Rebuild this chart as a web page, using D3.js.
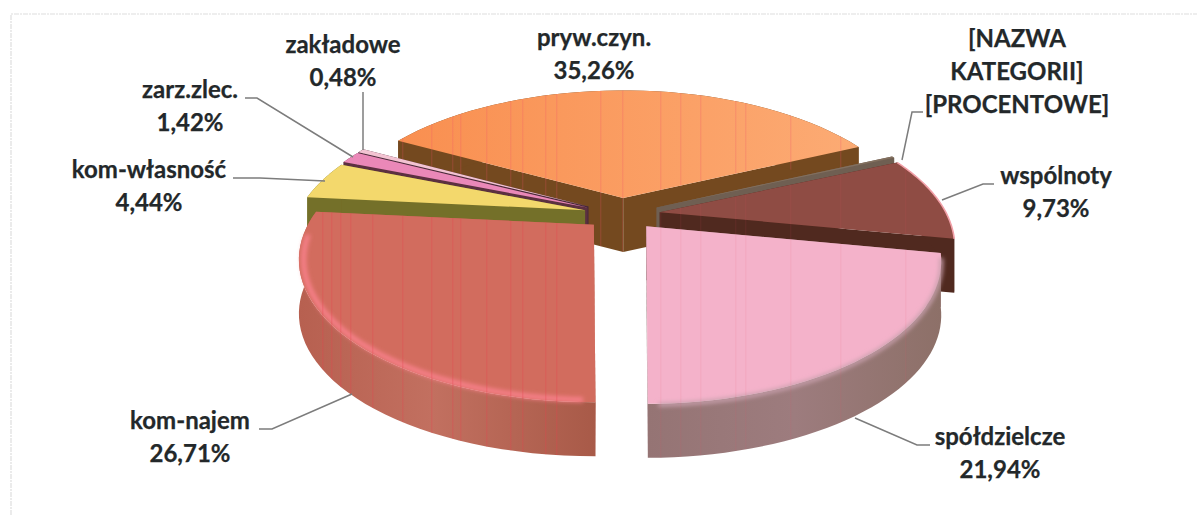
<!DOCTYPE html>
<html><head><meta charset="utf-8">
<style>html,body{margin:0;padding:0;background:#fff;overflow:hidden}svg{display:block}text{font-family:Lato,"Noto Sans",sans-serif;font-weight:700;fill:#23282a;stroke:#23282a;stroke-width:.25px;text-anchor:middle}</style>
<script src="https://cdn.jsdelivr.net/npm/d3@7/dist/d3.min.js"></script></head><body>
<svg id="c" width="1197" height="515"></svg>
<script>
const categories = ["pryw.czyn.","[NAZWA KATEGORII]","wspólnoty","spółdzielcze","kom-najem","kom-własność","zarz.zlec.","zakładowe"];
const shares = [35.26,0.22,9.73,21.94,26.71,4.44,1.42,0.48];
const labelLines = [["pryw.czyn.","35,26%"],["[NAZWA","KATEGORII]","[PROCENTOWE]"],["wspólnoty","9,73%"],["spółdzielcze","21,94%"],["kom-najem","26,71%"],["kom-własność","4,44%"],["zarz.zlec.","1,42%"],["zakładowe","0,48%"]];
const paintOrder = [0,1,7,6,2,5,4,3];

// layout and style, separate from the data
const topColor  = ["#fa9c60","#83705f","#8f4c44","#f4b2ca","#d26c5e","#f3d86c","#ea88b8","#f3c3d2"];
const wallColor = ["#74491f","#6f5f52","#50291f","#9c7b7d","#b9624f","#747029","#5c3040","#4a2a3a"];
const labelAt = [[594,46],[1017,47],[1056,184],[1000,445],[190,429],[149,178],[190,98],[343,53]];
const leaders = [null,
 [[923,112],[912,112],[902,160]],
 [[994,184],[983,184],[942,200]],
 [[930,445],[917,445],[855,418]],
 [[259,429],[272,429],[352,394]],
 [[233,178],[260,178],[325,181]],
 [[245,98],[257,98],[353,157]],
 [[363,92],[363,150]]];
const streaks = [322,331,340,350,372,402,431,452,486,510,522,545,556,622,680,700,745,660,735,790,840,905,460,600];

const R=286, Ry=134, K=0.245, H=54, cx=622, cy=214, ex=38, ey=16;
const svg=d3.select("#c");
const defs=svg.append("defs");
const blur=(id,s)=>defs.append("filter").attr("id",id).attr("x","-5%").attr("y","-5%").attr("width","110%").attr("height","110%").append("feGaussianBlur").attr("stdDeviation",s);
blur("b1",0.7); blur("b2",2.2);
const grad=(id,stops)=>{const g=defs.append("linearGradient").attr("id",id);stops.forEach(([o,c])=>g.append("stop").attr("offset",o).attr("stop-color",c));return `url(#${id})`;};
const wallFill={3:grad("wp",[[0,"#957474"],[.5,"#9d7c7e"],[1,"#8d7068"]]),4:grad("wr",[[0,"#b76050"],[.45,"#c27060"],[1,"#a85a48"]])};
const topFill={0:grad("to",[[0,"#f98f50"],[1,"#fcab74"]])};

// scanner frame
const frame=d3.line();
svg.append("path").attr("d",frame([[11,515],[11,14],[1197,14]])).attr("fill","none").attr("stroke","#dedede").attr("stroke-width",1.2).attr("stroke-dasharray","5 1 2 1");

const rad=Math.PI/180;
const pie=d3.pie().sort(null).startAngle(-61.5*rad).endAngle(298.5*rad);
const arcs=pie(shares);
const line=d3.line();
function apex(a){const m=(a.startAngle+a.endAngle)/2;return [cx+ex*Math.sin(m),cy-ey*Math.cos(m)];}
function proj(o,t,r,z){const X=r*Math.sin(t),Y=-r*Math.cos(t),s=1/(1-K*Y);return [o[0]+X*R*s,o[1]+Y*Ry*s+z];}
function rim(a,o,z,r=1,f0=0,f1=1){return d3.range(0,41).map(i=>proj(o,a.startAngle+(a.endAngle-a.startAngle)*(f0+(f1-f0)*i/40),r,z));}

paintOrder.forEach(i=>{
  const a=arcs[i],o=apex(a),g=svg.append("g");
  const top=rim(a,o,0),bot=rim(a,o,H);
  const topPath=line([o,...top])+"Z";
  const wallPath=line([...top,...bot.slice().reverse()])+"Z";
  const cut1=line([o,top[0],bot[0],[o[0],o[1]+H]])+"Z";
  const cut2=line([o,top[40],bot[40],[o[0],o[1]+H]])+"Z";
  g.append("path").attr("d",cut1).attr("fill",wallColor[i]);
  g.append("path").attr("d",cut2).attr("fill",wallColor[i]);
  g.append("path").attr("d",wallPath).attr("fill",wallFill[i]||wallColor[i]);
  g.append("path").attr("d",topPath).attr("fill",topFill[i]||topColor[i]);
  if(i===4) g.append("path").attr("d",line(rim(a,o,1,0.985,0.02,0.9))).attr("fill","none").attr("stroke","#f8808a").attr("stroke-width",5).attr("filter","url(#b2)");
  if(i===3) g.append("path").attr("d",line(rim(a,o,1,1,0.02,0.98))).attr("fill","none").attr("stroke","#c9a0ad").attr("stroke-width",4).attr("filter","url(#b2)");
  if(i===2) g.append("path").attr("d",line(top)).attr("fill","none").attr("stroke","#f2a0a8").attr("stroke-width",1.6).attr("filter","url(#b1)");
  if([0,3,4,2].includes(i)){
    const clip=defs.append("clipPath").attr("id","cl"+i);
    clip.append("path").attr("d",topPath);clip.append("path").attr("d",wallPath);clip.append("path").attr("d",cut1);
    g.append("g").attr("clip-path",`url(#cl${i})`).selectAll("rect").data(streaks).join("rect")
      .attr("x",d=>d).attr("y",60).attr("width",1.4).attr("height",420)
      .attr("fill",i===4?"#e8404c":"#f0506a").attr("opacity",i===4?0.26:(i===0?0.2:0.08));
  }
});

// leader lines
svg.selectAll("path.lead").data(leaders.filter(Boolean)).join("path").attr("class","lead")
  .attr("d",d=>line(d)).attr("fill","none").attr("stroke","#7c7c7c").attr("stroke-width",1.5);

// labels
labelLines.forEach((ls,i)=>{
  ls.forEach((t,j)=>svg.append("text").attr("x",labelAt[i][0]).attr("y",labelAt[i][1]+j*33).attr("font-size",24).text(t));
});
</script></body></html>
